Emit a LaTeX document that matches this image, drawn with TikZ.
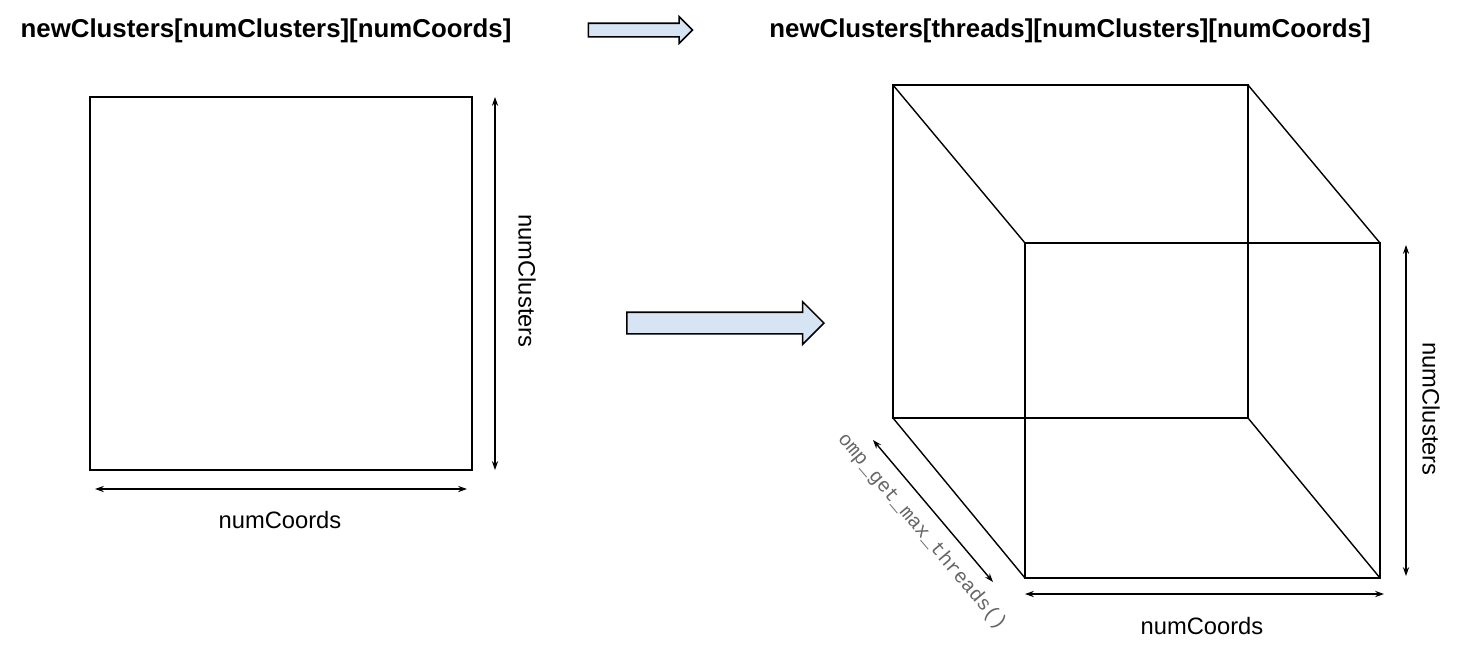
\documentclass[tikz,border=0pt]{standalone}
\usepackage{fontspec}
\setmainfont{Liberation Sans}
\setmonofont{Liberation Mono}
\usepackage{tikz}
\usetikzlibrary{shapes.arrows, arrows.meta}
\usepackage{xcolor}
\definecolor{arrowfill}{RGB}{214,228,244}

\begin{document}
\begin{tikzpicture}[x=0.02cm, y=-0.02cm, >={Stealth[length=5pt, width=3.5pt]}]
\useasboundingbox (0,0) rectangle (1457,647);
% 标题与转换箭头
\node[font=\fontsize{14.7}{17}\selectfont\bfseries] (oldname) at (266,31) {newClusters[numClusters][numCoords]};
\node[font=\fontsize{14.7}{17}\selectfont\bfseries] (newname) at (1070,31) {newClusters[threads][numClusters][numCoords]};
\node[single arrow, draw, line width=0.9pt, fill=arrowfill, inner xsep=0pt, inner ysep=0.12cm, minimum height=2.08cm, single arrow head extend=0.13cm] (smallarrow) at (637,30) {};
\node[single arrow, draw, line width=0.9pt, fill=arrowfill, inner xsep=0pt, inner ysep=0.2cm, minimum height=3.94cm, single arrow head extend=0.21cm] (bigarrow) at (720,323) {};

% 二维数组
\node[draw, line width=1pt, minimum width=7.64cm, minimum height=7.46cm] (grid) at (281,283.5) {};
\coordinate (gt) at (495,97);
\coordinate (gb) at (495,470);
\coordinate (gl) at (95,489);
\coordinate (gr) at (467,489);
\draw[<->, thick] (gt) -- (gb);
\draw[<->, thick] (gl) -- (gr);
\node[rotate=-90, font=\fontsize{13.5}{16}\selectfont] (gridrows) at (527,281) {numClusters};
\node[font=\fontsize{13.5}{16}\selectfont] (gridcols) at (280,520) {numCoords};

% 三维数组
\coordinate (b1) at (893,85);
\coordinate (b2) at (1248,85);
\coordinate (b3) at (1248,418);
\coordinate (b4) at (893,418);
\coordinate (f1) at (1025,243);
\coordinate (f2) at (1380,243);
\coordinate (f3) at (1380,578);
\coordinate (f4) at (1025,578);
\draw[line width=1pt] (b1) -- (b2) -- (b3) -- (b4) -- cycle;
\draw[line width=1pt] (f1) -- (f2) -- (f3) -- (f4) -- cycle;
\draw[line width=0.8pt] (b1) -- (f1) (b2) -- (f2) (b3) -- (f3) (b4) -- (f4);
\coordinate (ct) at (1406,245);
\coordinate (cb) at (1406,576);
\coordinate (cl) at (1025,594);
\coordinate (cr) at (1384,594);
\coordinate (dt) at (873,440);
\coordinate (db) at (993,582);
\draw[<->, thick] (ct) -- (cb);
\draw[<->, thick] (cl) -- (cr);
\draw[<->, thick] (dt) -- (db);
\node[rotate=-90, font=\fontsize{13.5}{16}\selectfont] (cuberows) at (1431,409) {numClusters};
\node[font=\fontsize{13.5}{16}\selectfont] (cubecols) at (1202,626) {numCoords};
\node[rotate=-49.8, text=black!60, font=\ttfamily\fontsize{11.3}{13}\selectfont] (cubedepth) at (922,532) {omp\_get\_max\_threads()};
\end{tikzpicture}
\end{document}
